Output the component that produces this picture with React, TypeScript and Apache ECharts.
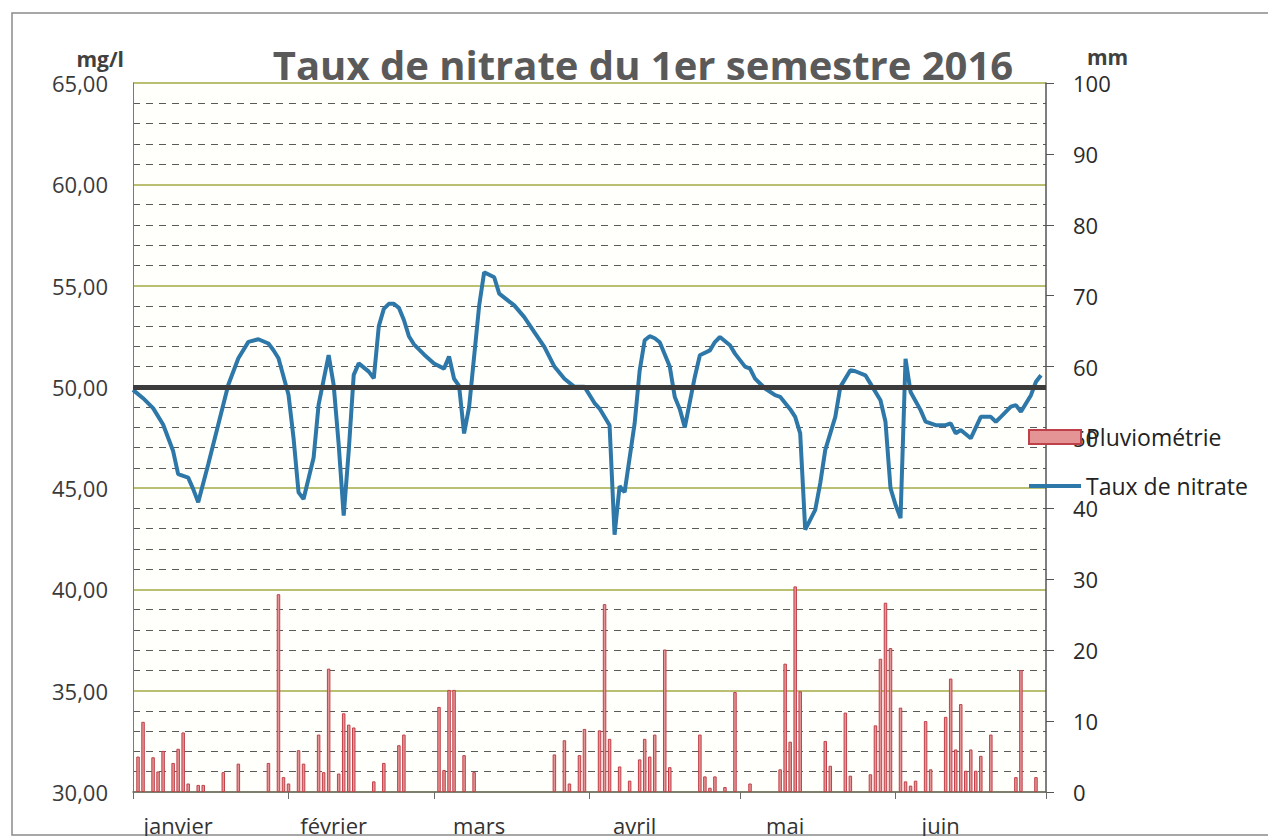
import React, { useEffect, useRef } from "react";
import * as echarts from "echarts";

const monthNames = ["janvier", "février", "mars", "avril", "mai", "juin"];
const monthStartDays = [0, 31, 60, 91, 121, 152, 182];
const monthLabelDays = [9, 40, 69, 100, 130, 161];

const rainDays = [1, 2, 4, 5, 6, 8, 9, 10, 11, 13, 14, 18, 21, 27, 29, 30, 31, 33, 34, 37, 38, 39, 41, 42, 43, 44, 48, 50, 53, 54, 61, 62, 63, 64, 66, 68, 84, 86, 87, 89, 90, 93, 94, 95, 97, 99, 101, 102, 103, 104, 106, 107, 113, 114, 115, 116, 118, 120, 123, 129, 130, 131, 132, 133, 138, 139, 142, 143, 147, 148, 149, 150, 151, 153, 154, 155, 156, 158, 159, 162, 163, 164, 165, 166, 167, 168, 169, 171, 176, 177, 180];
const rainMm = [5.0, 9.9, 4.9, 2.9, 5.8, 4.1, 6.1, 8.4, 1.2, 1.0, 1.0, 2.8, 4.0, 4.1, 27.9, 2.1, 1.2, 5.9, 4.0, 8.1, 2.8, 17.4, 2.6, 11.1, 9.5, 9.1, 1.5, 4.1, 6.6, 8.1, 12.0, 3.1, 14.4, 14.4, 5.2, 2.8, 5.3, 7.3, 1.2, 5.2, 8.9, 8.7, 26.5, 7.5, 3.6, 1.6, 4.6, 7.5, 5.0, 8.1, 20.1, 3.5, 8.1, 2.2, 0.6, 2.2, 0.7, 14.1, 1.2, 3.2, 18.1, 7.1, 29.0, 14.2, 7.2, 3.7, 11.2, 2.3, 2.5, 9.4, 18.8, 26.7, 20.3, 11.9, 1.5, 0.9, 1.6, 10.0, 3.2, 10.6, 16.0, 6.0, 12.4, 3.0, 6.0, 3.0, 5.1, 8.1, 2.1, 17.2, 2.1];

const nitrateDays = [0, 2, 4, 6, 8, 9, 11, 12, 13, 15, 17, 19, 21, 23, 25, 27, 28, 29, 31, 32, 33, 34, 36, 37, 39, 40, 41, 42, 43, 44, 45, 47, 48, 49, 50, 51, 52, 53, 54, 55, 56, 57, 58, 60, 62, 63, 64, 65, 66, 67, 68, 69, 70, 72, 73, 76, 78, 80, 82, 84, 86, 88, 90, 92, 93, 95, 96, 97, 98, 100, 101, 102, 103, 104, 105, 107, 108, 109, 110, 112, 113, 115, 116, 117, 119, 120, 122, 123, 124, 126, 128, 129, 131, 132, 133, 134, 136, 137, 138, 140, 141, 143, 144, 146, 147, 149, 150, 151, 152, 153, 154, 155, 157, 158, 160, 162, 163, 164, 165, 167, 169, 171, 172, 173, 175, 176, 177, 179, 180, 181];
const nitrateValues = [49.85, 49.44, 48.95, 48.14, 46.83, 45.69, 45.52, 44.95, 44.3, 46.18, 48.14, 50.1, 51.41, 52.22, 52.35, 52.14, 51.81, 51.41, 49.61, 47.48, 44.79, 44.46, 46.5, 49.12, 51.57, 50.1, 47.16, 43.64, 46.83, 50.59, 51.16, 50.75, 50.42, 53.0, 53.85, 54.1, 54.1, 53.9, 53.3, 52.5, 52.1, 51.85, 51.6, 51.15, 50.9, 51.5, 50.4, 50.05, 47.7, 49.0, 51.5, 54.0, 55.66, 55.41, 54.6, 54.02, 53.44, 52.7, 51.97, 51.0, 50.4, 50.0, 50.0, 49.2, 48.93, 48.1, 42.7, 45.1, 44.8, 48.2, 50.8, 52.3, 52.5, 52.4, 52.2, 51.0, 49.5, 48.9, 48.0, 50.5, 51.56, 51.8, 52.21, 52.46, 52.05, 51.64, 51.0, 50.9, 50.41, 49.92, 49.59, 49.51, 48.9, 48.52, 47.7, 42.95, 43.93, 45.25, 46.89, 48.52, 50.0, 50.82, 50.77, 50.57, 50.16, 49.34, 48.28, 45.0, 44.18, 43.52, 51.39, 49.75, 48.85, 48.28, 48.11, 48.11, 48.2, 47.7, 47.87, 47.46, 48.52, 48.52, 48.28, 48.52, 49.02, 49.1, 48.77, 49.59, 50.25, 50.57];

const thresholdValue = 50;

const FONT = "'Open Sans', 'Noto Sans', sans-serif";
const LINE_COLOR = "#2d78a8";
// thin horizontal bar icon; tiny corner triangles keep the 52x14 bounding box
const LINE_ICON =
  "path://M0,0 L0.05,0 L0,0.05 Z M0,5 L52,5 L52,9 L0,9 Z M52,14 L51.95,14 L52,13.95 Z";

export default function App() {
  const ref = useRef<HTMLDivElement>(null);
  useEffect(() => {
    if (!ref.current) return;
    const chart = echarts.init(ref.current, null, { renderer: "svg" });
    const fmt = (v: number) => v.toFixed(2).replace(".", ",");
    chart.setOption({
      animation: false,
      backgroundColor: "#ffffff",
      textStyle: { fontFamily: FONT },
      grid: {
        left: 133,
        right: 222,
        top: 83,
        bottom: 41,
        show: true,
        backgroundColor: "#fffffb",
        borderWidth: 0,
      },
      legend: {
        orient: "vertical",
        left: 1023,
        top: 420,
        itemWidth: 52,
        itemHeight: 14,
        itemGap: 25,
        symbolKeepAspect: false,
        textStyle: { fontSize: 23, color: "#222", fontFamily: FONT, lineHeight: 24 },
        data: [
          { name: "Pluviométrie", icon: "rect" },
          {
            name: "Taux de nitrate",
            icon: LINE_ICON,
            itemStyle: { color: LINE_COLOR, borderWidth: 0 },
          },
        ],
      },
      graphic: [
        {
          type: "rect",
          shape: { x: 12, y: 13, width: 1300, height: 822 },
          style: { fill: "none", stroke: "#8a8a8a", lineWidth: 1.5 },
          silent: true,
          z: -1,
        },
        {
          type: "text",
          x: 643,
          y: 64,
          style: {
            text: "Taux de nitrate du 1er semestre 2016",
            fontSize: 40,
            fontWeight: "bold",
            fontFamily: FONT,
            fill: "#5a5a5a",
            textAlign: "center",
            textVerticalAlign: "middle",
          },
        },
      ],
      xAxis: {
        type: "value",
        min: 0,
        max: 182,
        splitLine: { show: false },
        axisLine: { show: true, lineStyle: { color: "#6a6a6a", width: 1.5 } },
        axisTick: {
          show: true,
          customValues: monthStartDays,
          length: 7,
          lineStyle: { color: "#6a6a6a" },
        },
        axisLabel: {
          customValues: monthLabelDays,
          formatter: (v: number) => monthNames[monthLabelDays.indexOf(Math.round(v))] || "",
          fontSize: 22,
          color: "#333",
          margin: 22,
          fontFamily: FONT,
        },
      },
      yAxis: [
        {
          type: "value",
          min: 30,
          max: 65,
          interval: 5,
          position: "left",
          name: "mg/l",
          nameLocation: "end",
          nameGap: 24,
          nameTextStyle: {
            fontSize: 21,
            fontWeight: "bold",
            color: "#404040",
            align: "right",
            verticalAlign: "middle",
            padding: [0, 9, 0, 0],
            fontFamily: FONT,
          },
          axisLine: { show: true, lineStyle: { color: "#7a7a7a", width: 1 } },
          axisTick: { show: false },
          axisLabel: {
            formatter: fmt,
            fontSize: 22,
            color: "#3a3a3a",
            margin: 25,
            fontFamily: FONT,
          },
          splitLine: { show: true, lineStyle: { color: "#a4aa45", width: 1.5 } },
          minorTick: { show: false, splitNumber: 5 },
          minorSplitLine: {
            show: true,
            lineStyle: { color: "#5a5a5a", width: 1, type: [7, 6] },
          },
        },
        {
          type: "value",
          min: 0,
          max: 100,
          interval: 10,
          position: "right",
          name: "mm",
          nameLocation: "end",
          nameGap: 26,
          nameTextStyle: {
            fontSize: 21,
            fontWeight: "bold",
            color: "#404040",
            align: "left",
            verticalAlign: "middle",
            padding: [0, 0, 0, 41],
            fontFamily: FONT,
          },
          axisLine: { show: true, lineStyle: { color: "#555", width: 1.5 } },
          axisTick: { show: true, length: 8, lineStyle: { color: "#555" } },
          axisLabel: { fontSize: 22, color: "#2a2a2a", margin: 27, fontFamily: FONT },
          splitLine: { show: false },
        },
      ],
      series: [
        {
          name: "Pluviométrie",
          type: "bar",
          yAxisIndex: 1,
          barWidth: 3.5,
          itemStyle: { color: "#e49494", borderColor: "#c0404a", borderWidth: 1 },
          data: rainDays.map((d, i) => [d, rainMm[i]]),
          z: 2,
        },
        {
          name: "Taux de nitrate",
          type: "line",
          yAxisIndex: 0,
          symbol: "none",
          lineStyle: { color: LINE_COLOR, width: 4 },
          itemStyle: { color: LINE_COLOR },
          data: nitrateDays.map((d, i) => [d, nitrateValues[i]]),
          markLine: {
            silent: true,
            symbol: "none",
            label: { show: false },
            lineStyle: { color: "#3c3c3c", width: 5, type: "solid" },
            data: [{ yAxis: thresholdValue }],
          },
          z: 3,
        },
      ],
    });
    return () => chart.dispose();
  }, []);
  return (
    <div
      ref={ref}
      style={{ position: "fixed", left: 0, top: 0, width: 1268, height: 836 }}
    />
  );
}
